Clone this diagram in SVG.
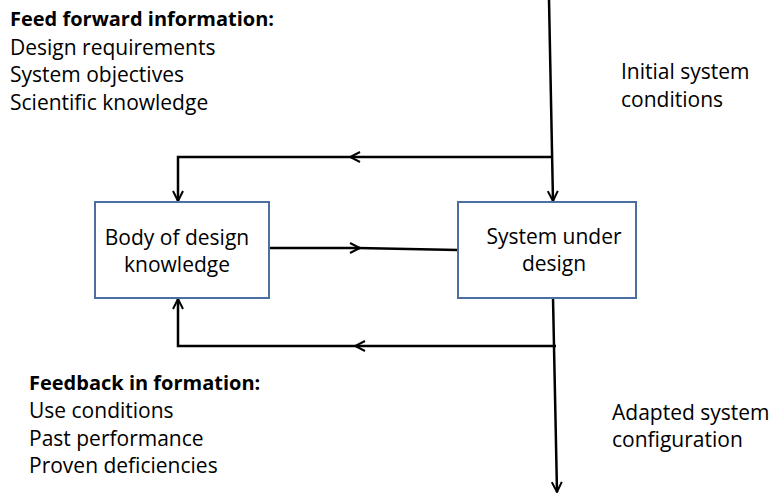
<svg xmlns="http://www.w3.org/2000/svg" width="771" height="495" viewBox="0 0 771 495">
<defs>
<marker id="ah" viewBox="0 0 12 12" refX="11" refY="6" markerWidth="12" markerHeight="12" markerUnits="userSpaceOnUse" orient="auto">
<path d="M1,1 L11,6 L1,11" fill="none" stroke="#000" stroke-width="2"/>
</marker>
</defs>
<style>
text{font-family:"Open Sans","Noto Sans",sans-serif;font-size:21px;fill:#000}
.b{font-weight:bold;font-size:20px}
.box{fill:#fff;stroke:#4a6fa0;stroke-width:2}
.c{fill:none;stroke:#000;stroke-width:2.5}
</style>
<rect width="771" height="495" fill="#fff"/>
<g id="connectors">
<line class="c" x1="549" y1="0" x2="553" y2="201" marker-end="url(#ah)"/>
<path class="c" d="M551,157 L350,157"  marker-end="url(#ah)"/>
<path class="c" d="M350,157 L178,157 L178,201" marker-end="url(#ah)"/>
<path class="c" d="M270,248 L360,248" marker-end="url(#ah)"/>
<line class="c" x1="358" y1="248" x2="458" y2="250"/>
<line class="c" x1="553" y1="298" x2="557" y2="492" marker-end="url(#ah)"/>
<path class="c" d="M556,346 L355,346" marker-end="url(#ah)"/>
<path class="c" d="M355,346 L178,346 L178,299" marker-end="url(#ah)"/>
</g>
<g id="body-of-design-knowledge">
<rect class="box" x="95" y="202" width="174" height="96"/>
<text x="177" y="245" text-anchor="middle">Body of design</text>
<text x="177" y="272" text-anchor="middle">knowledge</text>
</g>
<g id="system-under-design">
<rect class="box" x="458" y="202" width="178" height="96"/>
<text x="554" y="244" text-anchor="middle">System under</text>
<text x="554" y="271" text-anchor="middle">design</text>
</g>
<g id="feed-forward">
<text x="10" y="26" class="b">Feed forward information:</text>
<text x="10" y="55">Design requirements</text>
<text x="10" y="82">System objectives</text>
<text x="10" y="110">Scientific knowledge</text>
</g>
<g id="initial-conditions">
<text x="621" y="79">Initial system</text>
<text x="621" y="107">conditions</text>
</g>
<g id="feedback">
<text x="29" y="390" class="b">Feedback in formation:</text>
<text x="29" y="418">Use conditions</text>
<text x="29" y="446">Past performance</text>
<text x="29" y="473">Proven deficiencies</text>
</g>
<g id="adapted-config">
<text x="612" y="420">Adapted system</text>
<text x="612" y="447">configuration</text>
</g>
</svg>
